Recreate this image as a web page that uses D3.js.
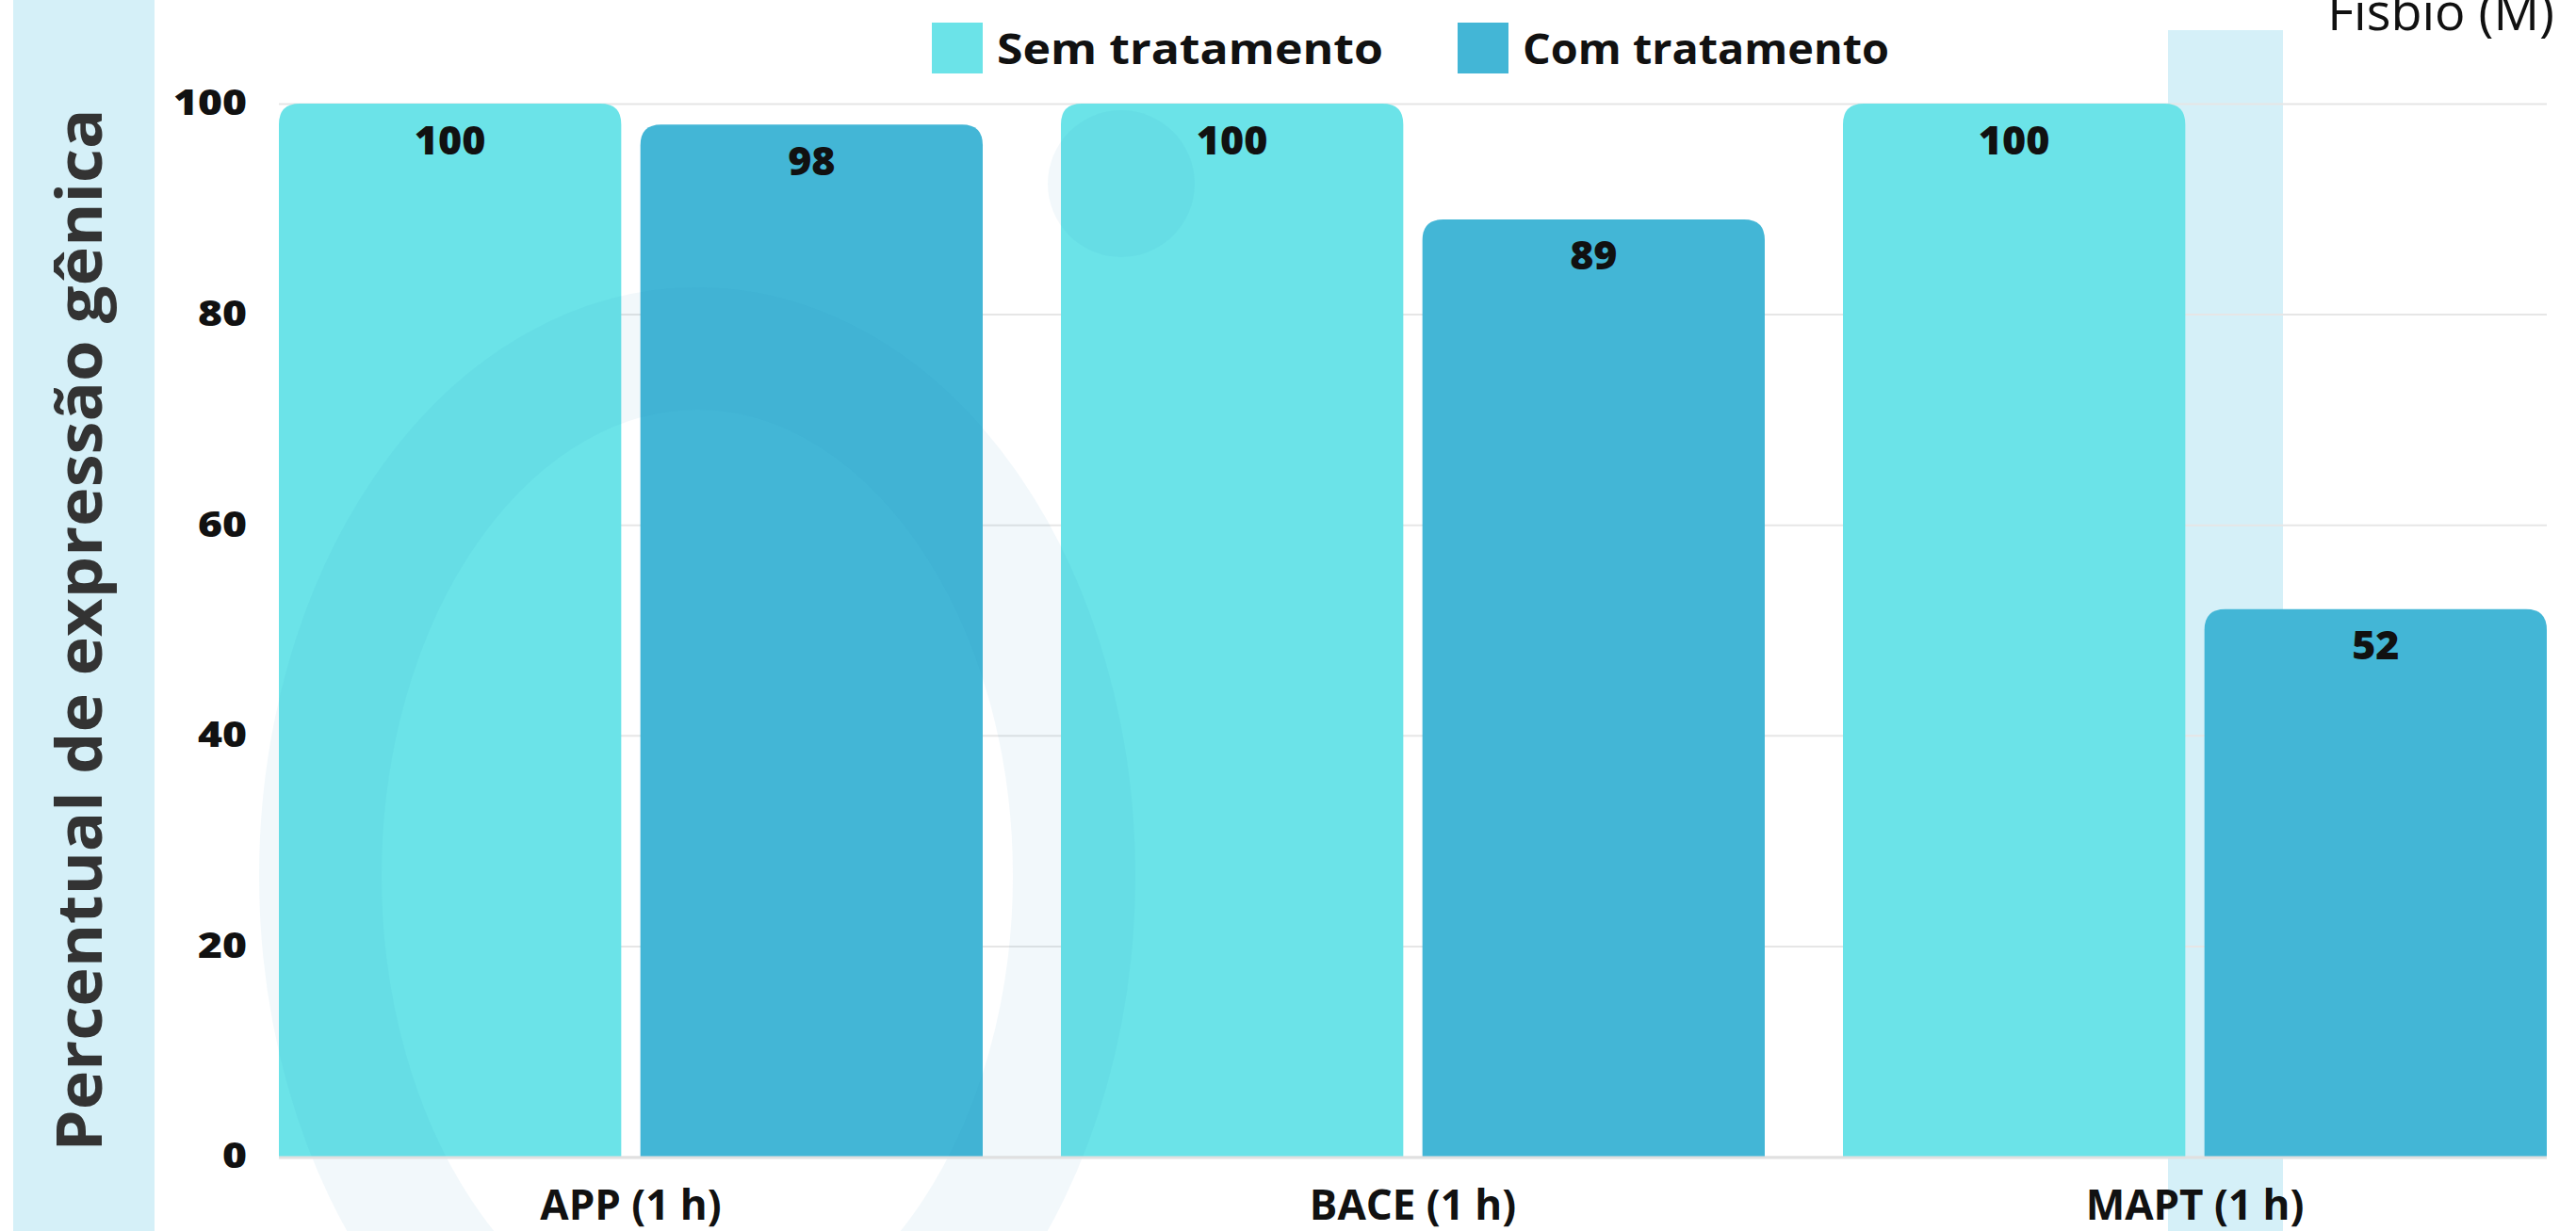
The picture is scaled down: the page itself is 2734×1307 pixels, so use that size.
<!DOCTYPE html>
<html>
<head>
<meta charset="utf-8">
<script src="https://d3js.org/d3.v7.min.js"></script>
<style>
  body { margin: 0; background: #fff; }
  text { font-family: "Open Sans", "DejaVu Sans", sans-serif; }
</style>
</head>
<body>
<svg id="vis"></svg>
<script>
// chart values
const categories = ["APP (1 h)", "BACE (1 h)", "MAPT (1 h)"];
const series = ["Sem tratamento", "Com tratamento"];
const semTratamento = [100, 100, 100];
const comTratamento = [98, 89, 52];
const yTicks = [0, 20, 40, 60, 80, 100];

const colors = {"Sem tratamento": "#6be3e8", "Com tratamento": "#43b6d6"};

var width = 2734, height = 1307;
var plot = {left: 296, right: 2703, top: 110, bottom: 1228};

var svg = d3.select("#vis")
    .attr("width", width)
    .attr("height", height);

// background watermark strips
var wm = svg.append("g");
wm.append("rect").attr("x", 14).attr("y", 0).attr("width", 150).attr("height", height)
    .attr("fill", "#d5f0f8");
wm.append("rect").attr("x", 2301).attr("y", 32).attr("width", 122).attr("height", height)
    .attr("fill", "#d5f0f8");

// scales
var x0 = d3.scaleBand()
    .domain(categories)
    .range([plot.left, plot.right])
    .paddingInner(0.1);

var x1 = d3.scaleBand()
    .domain(series)
    .range([0, x0.bandwidth()])
    .paddingInner(0.053);

var y = d3.scaleLinear()
    .domain([0, 100])
    .range([plot.bottom, plot.top]);

// gridlines + y tick labels
var yAxis = svg.append("g")
    .attr("transform", "translate(" + plot.left + ",0)")
    .call(d3.axisLeft(y).tickValues(yTicks).tickSize(-(plot.right - plot.left)).tickPadding(34));
yAxis.select(".domain").remove();
yAxis.selectAll("line").attr("stroke", "#e6e6e6").attr("stroke-width", 2);
yAxis.selectAll("text")
    .attr("fill", "#111")
    .style("font-size", "37px")
    .style("font-weight", 800)
    .attr("textLength", function(d) { return String(d).length * 26; })
    .attr("lengthAdjust", "spacingAndGlyphs");

// rows of data
var rows = categories.map(function(c, i) {
    return {cat: c, values: [
        {key: series[0], value: semTratamento[i]},
        {key: series[1], value: comTratamento[i]}
    ]};
});

function topRounded(x, yTop, w, h, r) {
    return "M" + x + "," + (yTop + h) +
        "V" + (yTop + r) +
        "Q" + x + "," + yTop + " " + (x + r) + "," + yTop +
        "H" + (x + w - r) +
        "Q" + (x + w) + "," + yTop + " " + (x + w) + "," + (yTop + r) +
        "V" + (yTop + h) + "Z";
}

var groups = svg.append("g")
    .selectAll("g")
    .data(rows)
    .enter()
    .append("g")
    .attr("transform", function(d) { return "translate(" + x0(d.cat) + ",0)"; });

groups.selectAll("path")
    .data(function(d) { return d.values; })
    .enter()
    .append("path")
    .attr("d", function(d) {
        return topRounded(x1(d.key), y(d.value), x1.bandwidth(), y(0) - y(d.value), 22);
    })
    .attr("fill", function(d) { return colors[d.key]; });

groups.selectAll("text")
    .data(function(d) { return d.values; })
    .enter()
    .append("text")
    .attr("x", function(d) { return x1(d.key) + x1.bandwidth() / 2; })
    .attr("y", function(d) { return y(d.value) + 37; })
    .attr("text-anchor", "middle")
    .attr("dominant-baseline", "central")
    .style("font-size", "43px")
    .style("font-weight", 800)
    .attr("fill", "#111")
    .text(function(d) { return d.value; });

// faint watermark ring over the bars
svg.append("ellipse")
    .attr("cx", 740).attr("cy", 930)
    .attr("rx", 400).attr("ry", 560)
    .attr("fill", "none")
    .attr("stroke", "#1a8fc0")
    .attr("stroke-width", 130)
    .attr("opacity", 0.06);
svg.append("circle")
    .attr("cx", 1190).attr("cy", 195).attr("r", 78)
    .attr("fill", "#1a8fc0")
    .attr("opacity", 0.06);

// baseline
svg.append("line")
    .attr("x1", plot.left).attr("x2", plot.right)
    .attr("y1", y(0) + 1).attr("y2", y(0) + 1)
    .attr("stroke", "#e0e0e0").attr("stroke-width", 3);

// x axis labels
var xAxis = svg.append("g")
    .attr("transform", "translate(0," + plot.bottom + ")")
    .call(d3.axisBottom(x0).tickSize(0).tickPadding(0));
xAxis.select(".domain").remove();
xAxis.selectAll("text")
    .attr("y", 50)
    .attr("dy", null)
    .attr("dominant-baseline", "central")
    .attr("fill", "#111")
    .style("font-size", "44px")
    .style("font-weight", 700);

// y axis title
svg.append("text")
    .attr("transform", "translate(82," + ((plot.top + plot.bottom) / 2) + ") rotate(-90)")
    .attr("text-anchor", "middle")
    .attr("dominant-baseline", "central")
    .attr("textLength", 1107)
    .attr("lengthAdjust", "spacingAndGlyphs")
    .attr("fill", "#333")
    .style("font-size", "66px")
    .style("font-weight", 700)
    .text("Percentual de expressão gênica");

// legend
var legend = svg.append("g");
var legendX = [989, 1547];
var legendLen = [410, 389];
series.forEach(function(s, i) {
    legend.append("rect")
        .attr("x", legendX[i]).attr("y", 24)
        .attr("width", 54).attr("height", 54)
        .attr("fill", colors[s]);
    legend.append("text")
        .attr("x", legendX[i] + 69).attr("y", 51)
        .attr("dominant-baseline", "central")
        .attr("textLength", legendLen[i])
        .attr("lengthAdjust", "spacingAndGlyphs")
        .attr("fill", "#111")
        .style("font-size", "44px")
        .style("font-weight", 700)
        .text(s);
});

// source note at the top right, clipped by the top edge as in the original
svg.append("text")
    .attr("x", 2711).attr("y", 32)
    .attr("text-anchor", "end")
    .attr("fill", "#111")
    .style("font-size", "54px")
    .text("Fisbio (M)");
</script>
</body>
</html>
